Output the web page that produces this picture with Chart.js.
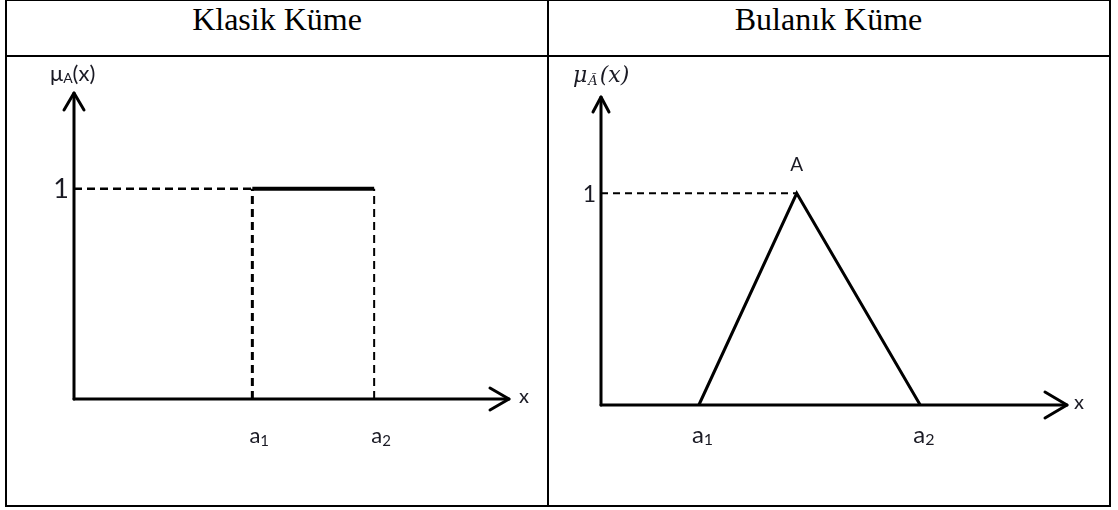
<!DOCTYPE html>
<html>
<head>
<meta charset="utf-8">
<script src="https://cdn.jsdelivr.net/npm/chart.js@4.4.0/dist/chart.umd.min.js"></script>
<style>
  body { margin: 0; background: #fff; }
  #page { position: relative; width: 1118px; height: 510px; overflow: hidden; }
  .frame { position: absolute; left: 5px; top: -1px; width: 1102px; height: 504px; border: 2px solid #000; }
  .hline { position: absolute; left: 5px; top: 55px; width: 1105px; height: 2px; background: #000; }
  .vline { position: absolute; left: 547px; top: 0; width: 2px; height: 506px; background: #000; }
  .title { position: absolute; top: 1px; font-family: "Liberation Serif", serif; font-size: 32px; color: #000; text-align: center; }
  canvas { position: absolute; }
</style>
</head>
<body>
<div id="page">
  <div class="frame"></div>
  <div class="hline"></div>
  <div class="vline"></div>
  <div class="title" style="left:6px;width:542px">Klasik Küme</div>
  <div class="title" style="left:548px;width:561px">Bulanık Küme</div>
  <canvas id="klasik" width="540" height="447" style="left:7px;top:57px"></canvas>
  <canvas id="bulanik" width="559" height="447" style="left:549px;top:57px"></canvas>
</div>
<script>
// ----- data -----
const klasikX = [4.1, 6.9];          // a1, a2
const klasikY = [1, 1];
const bulanikX = [2.1, 4.2, 6.85];   // a1, tepe (A), a2
const bulanikY = [0, 1, 0];
const xTickLabels = ['a', 'a'];
const xTickSubs = ['1', '2'];
const yTickValue = 1;
const yTickLabel = '1';

const sansFont = 'Lato, "Open Sans", sans-serif';

// metin parçalarını yan yana yazar: [metin, font, dy]
function drawRun(ctx, x, y, parts) {
  ctx.textAlign = 'left';
  parts.forEach(p => {
    ctx.font = p[1];
    ctx.fillText(p[0], x, y + (p[2] || 0));
    x += ctx.measureText(p[0]).width + (p[3] || 0);
  });
}

// eksenleri, okları ve etiketleri çizen eklenti
const axesPlugin = {
  id: 'axesPlugin',
  afterDatasetsDraw(chart, args, opts) {
    const ctx = chart.ctx;
    const area = chart.chartArea;
    const xs = chart.scales.x;
    const ys = chart.scales.y;
    ctx.save();
    ctx.setLineDash([]);
    ctx.strokeStyle = '#000';
    ctx.lineWidth = 3;
    ctx.lineCap = 'round';
    ctx.lineJoin = 'round';
    // y ekseni
    ctx.beginPath();
    ctx.moveTo(area.left, area.bottom);
    ctx.lineTo(area.left, area.top);
    ctx.stroke();
    // x ekseni
    ctx.beginPath();
    ctx.moveTo(area.left, area.bottom);
    ctx.lineTo(area.right, area.bottom);
    ctx.stroke();
    // oklar
    ctx.beginPath();
    ctx.moveTo(area.left - opts.yArrow[0], area.top + opts.yArrow[1]);
    ctx.lineTo(area.left, area.top);
    ctx.lineTo(area.left + opts.yArrow[0], area.top + opts.yArrow[1]);
    ctx.stroke();
    ctx.beginPath();
    ctx.moveTo(area.right - opts.xArrow[0], area.bottom - opts.xArrow[1]);
    ctx.lineTo(area.right, area.bottom);
    ctx.lineTo(area.right - opts.xArrow[0], area.bottom + opts.xArrow[1]);
    ctx.stroke();

    ctx.fillStyle = '#1a1a24';
    ctx.textBaseline = 'middle';
    // x etiketi
    ctx.font = opts.xLabelSize + 'px ' + sansFont;
    ctx.textAlign = 'left';
    ctx.fillText('x', area.right + opts.xLabelGap, area.bottom - 2);
    // y değeri "1"
    ctx.font = opts.oneSize + 'px ' + sansFont;
    ctx.textAlign = 'right';
    ctx.fillText(yTickLabel, area.left - 5, ys.getPixelForValue(yTickValue) + 1);
    // a1, a2
    opts.xTicks.forEach((v, i) => {
      const px = xs.getPixelForValue(v);
      const py = area.bottom + opts.tickGap;
      ctx.font = opts.tickSize + 'px ' + sansFont;
      ctx.textAlign = 'right';
      ctx.fillText(xTickLabels[i], px + opts.tickShift, py);
      ctx.font = Math.round(opts.tickSize * 0.68) + 'px ' + sansFont;
      ctx.textAlign = 'left';
      ctx.fillText(xTickSubs[i], px + opts.tickShift, py + 5);
    });
    // y ekseni başlığı
    drawRun(ctx, area.left + opts.yTitle[0], area.top + opts.yTitle[1], opts.yTitleParts);
    if (opts.peakLabel) {
      ctx.font = '19px ' + sansFont;
      ctx.textAlign = 'center';
      ctx.fillText(opts.peakLabel, xs.getPixelForValue(bulanikX[1]), ys.getPixelForValue(bulanikY[1]) - 28);
    }
    ctx.restore();
  }
};

function baseOptions(padding, pluginOpts) {
  return {
    responsive: false,
    animation: false,
    layout: { padding: padding },
    scales: {
      x: { type: 'linear', min: 0, max: 10, display: false },
      y: { type: 'linear', min: 0, max: 1.455, display: false }
    },
    plugins: {
      legend: { display: false },
      tooltip: { enabled: false },
      axesPlugin: pluginOpts
    },
    elements: { point: { radius: 0 } }
  };
}

// ----- Klasik Küme -----
const klasikDatasets = [
  {
    data: [{ x: 0, y: klasikY[0] }, { x: klasikX[0], y: klasikY[0] }],
    borderColor: '#000', borderWidth: 2.5, borderDash: [8, 5], showLine: true, clip: false
  },
  {
    data: [{ x: klasikX[0], y: 0 }, { x: klasikX[0], y: klasikY[0] }],
    borderColor: '#000', borderWidth: 3, borderDash: [8, 5], showLine: true, clip: false
  },
  {
    data: [{ x: klasikX[1], y: 0 }, { x: klasikX[1], y: klasikY[1] }],
    borderColor: '#000', borderWidth: 2, borderDash: [8, 5], showLine: true, clip: false
  },
  {
    data: klasikX.map((x, i) => ({ x: x, y: klasikY[i] })),
    borderColor: '#000', borderWidth: 4, showLine: true, clip: false
  }
];

new Chart(document.getElementById('klasik'), {
  type: 'scatter',
  data: { datasets: klasikDatasets },
  plugins: [axesPlugin],
  options: baseOptions({ left: 67, top: 36, right: 38, bottom: 105 }, {
    yArrow: [10, 17],
    xArrow: [19, 11],
    xLabelSize: 20,
    xLabelGap: 10,
    oneSize: 27,
    tickSize: 22,
    tickGap: 37,
    tickShift: 8,
    xTicks: klasikX,
    yTitle: [-24, -19],
    yTitleParts: [
      ['\u03bc', '22px ' + sansFont, 0],
      ['A', '14px ' + sansFont, 4],
      ['(x)', '22px ' + sansFont, 0]
    ]
  })
});

// ----- Bulanık Küme -----
const bulanikDatasets = [
  {
    data: [{ x: 0, y: bulanikY[1] }, { x: bulanikX[1], y: bulanikY[1] }],
    borderColor: '#000', borderWidth: 2, borderDash: [7, 5], showLine: true, clip: false
  },
  {
    data: bulanikX.map((x, i) => ({ x: x, y: bulanikY[i] })),
    borderColor: '#000', borderWidth: 3, showLine: true, clip: false, tension: 0
  }
];

const serifItalic = 'italic {s}px "DejaVu Serif", serif';
new Chart(document.getElementById('bulanik'), {
  type: 'scatter',
  data: { datasets: bulanikDatasets },
  plugins: [axesPlugin],
  options: baseOptions({ left: 52, top: 40, right: 41, bottom: 99 }, {
    yArrow: [8, 15],
    xArrow: [22, 13],
    xLabelSize: 20,
    xLabelGap: 7,
    oneSize: 23,
    tickSize: 24,
    tickGap: 30,
    tickShift: 5,
    xTicks: [bulanikX[0], bulanikX[2]],
    peakLabel: 'A',
    yTitle: [-28, -21],
    yTitleParts: [
      ['\u03bc', serifItalic.replace('{s}', 22), 0, 1],
      ['A\u0303', serifItalic.replace('{s}', 13), 6, 2],
      ['(x)', serifItalic.replace('{s}', 22), 0]
    ]
  })
});
</script>
</body>
</html>
